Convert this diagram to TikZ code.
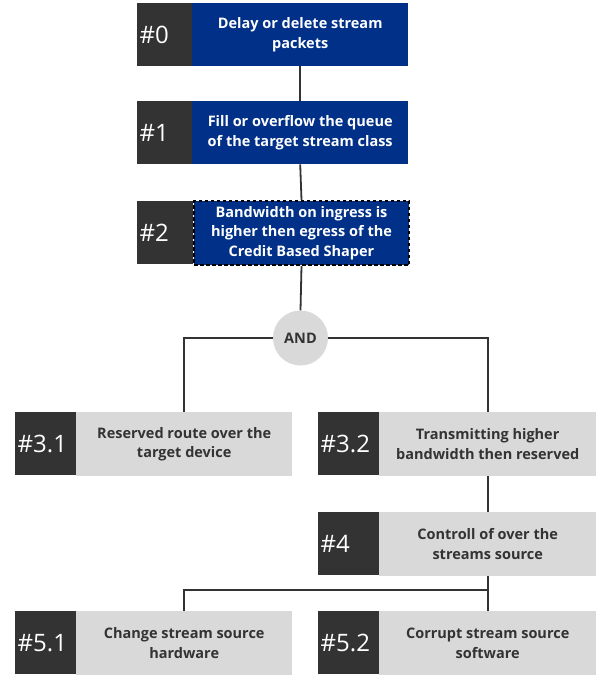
\documentclass[tikz,border=0pt]{standalone}
\usepackage{fontspec}
\setmainfont{Open Sans}
\definecolor{navy}{HTML}{003087}
\definecolor{darkbox}{HTML}{333333}
\definecolor{lightbox}{HTML}{D9D9D9}
\definecolor{wire}{HTML}{333333}
\begin{document}
\begin{tikzpicture}[x=1pt,y=-1pt,
  numbox/.style={fill=darkbox, text=white, anchor=north west, minimum width=#1,
    minimum height=63pt, inner sep=0pt, font=\fontsize{24}{26}\selectfont,
    align=left, text width=#1-5pt},
  numbox/.default=56pt,
  bluebox/.style={fill=navy, text=white, anchor=north west, minimum width=216pt,
    minimum height=63pt, inner sep=2pt, align=center,
    font=\bfseries\fontsize{14.5}{19.5}\selectfont},
  greybox/.style={fill=lightbox, text=darkbox, anchor=north west, minimum width=#1,
    minimum height=64pt, inner sep=2pt, align=center,
    font=\bfseries\fontsize{14.5}{19.5}\selectfont},
  greybox/.default=216pt,
  link/.style={draw=wire, line width=1.8pt},
  gate/.style={circle, fill=lightbox, text=darkbox, minimum size=55pt, inner sep=0pt,
    font=\bfseries\fontsize{14.5}{16}\selectfont}]
\useasboundingbox (0,0) rectangle (597,677);

% chain of steps at the top
\node[numbox] (n0) at (137,3) {\#0};
\node[bluebox] (b0) at (192,3) {Delay or delete stream\\packets};
\node[numbox] (n1) at (137,101) {\#1};
\node[bluebox] (b1) at (192,101) {Fill or overflow the queue\\of the target stream class};
\node[numbox] (n2) at (137,201) {\#2};
\node[bluebox, draw=black, line width=2pt, dash pattern=on 3.5pt off 2.5pt,
  minimum width=215pt, minimum height=64pt] (b2) at (193,200)
  {Bandwidth on ingress is\\higher then egress of the\\Credit Based Shaper};

% AND gate
\node[gate] (and) at (300.5,338) {AND};

% lower steps
\node[numbox=61pt] (n31) at (15,412) {\#3.1};
\node[greybox] (g31) at (76,412) {Reserved route over the\\target device};
\node[numbox=61pt] (n32) at (318,412) {\#3.2};
\node[greybox=217pt] (g32) at (379,412) {Transmitting higher\\bandwidth then reserved};
\node[numbox=61pt] (n4) at (318,512) {\#4};
\node[greybox=217pt] (g4) at (379,512) {Controll of over the\\streams source};
\node[numbox=61pt] (n51) at (15,611) {\#5.1};
\node[greybox] (g51) at (76,611) {Change stream source\\hardware};
\node[numbox=61pt] (n52) at (318,611) {\#5.2};
\node[greybox=217pt] (g52) at (379,611) {Corrupt stream source\\software};

% connectors
\coordinate (split) at (g52.north |- 0,590);
\draw[link] (b0.south) -- (b1.north);
\draw[link] (b1.south) -- (b2.north);
\draw[link] (b2.south) -- (and.north);
\draw[link] (and.west) -| (g31.north);
\draw[link] (and.east) -| (g32.north);
\draw[link] (g32.south) -- (g4.north);
\draw[link] (g4.south) -- (g52.north);
\draw[link] (split) -| (g51.north);
\end{tikzpicture}
\end{document}
